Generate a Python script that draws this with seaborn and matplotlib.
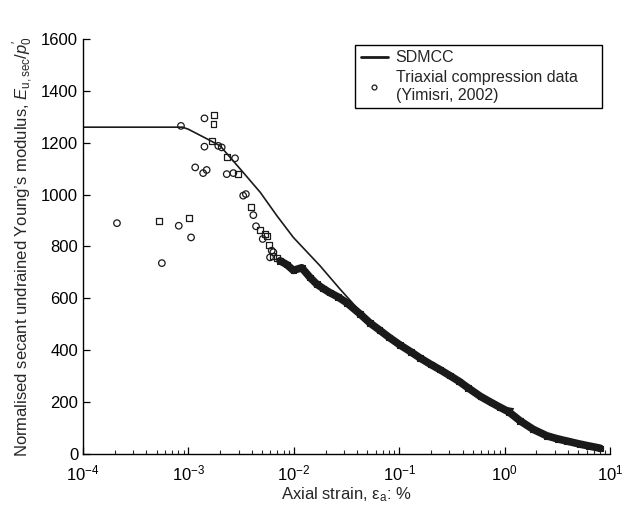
import numpy as np
import pandas as pd
import matplotlib

matplotlib.use("Agg")
import matplotlib.pyplot as plt
from matplotlib.lines import Line2D
from matplotlib.ticker import LogLocator, NullFormatter
import seaborn as sns

# SDMCC model curve (strain %, normalised modulus)
sdmcc_strain = [1e-4, 8.8e-4, 1.0e-3, 1.5e-3, 2.0e-3, 3.1e-3, 4.8e-3, 6.9e-3,
                9.9e-3, 0.0177, 0.0274, 0.040, 0.0528, 0.102, 0.20, 0.45,
                0.906, 1.21]
sdmcc_mod = [1260, 1260, 1252, 1215, 1188, 1099, 1009, 919,
             835, 726, 636, 562, 505, 420, 345, 255,
             182, 174]

# scattered triaxial points at small strain (circles)
circ_strain = [2.1e-4, 5.6e-4, 8.1e-4, 1.06e-3, 8.5e-4, 1.42e-3, 1.42e-3, 1.16e-3,
               1.38e-3, 1.49e-3, 1.92e-3, 2.07e-3, 2.77e-3, 2.31e-3, 2.67e-3,
               3.31e-3, 3.51e-3, 4.13e-3, 4.38e-3, 5.07e-3, 5.95e-3, 6.4e-3, 6.17e-3]
circ_mod = [890, 736, 880, 835, 1265, 1294, 1185, 1105,
            1083, 1095, 1188, 1182, 1140, 1079, 1083,
            996, 1002, 921, 878, 829, 758, 778, 784]

# scattered triaxial points at small strain (squares)
sq_strain = [5.3e-4, 1.01e-3, 1.76e-3, 1.73e-3, 1.66e-3, 2.34e-3, 2.97e-3, 3.9e-3,
             4.78e-3, 5.33e-3, 5.53e-3, 5.86e-3, 6.97e-3, 6.4e-3]
sq_mod = [899, 910, 1308, 1272, 1208, 1144, 1079, 951,
          865, 848, 839, 806, 754, 764]

# dense triaxial data band
band_strain = [0.0074, 0.0086, 0.0099, 0.0119, 0.0143, 0.0165, 0.019, 0.022,
               0.0264, 0.0318, 0.0425, 0.0528, 0.065, 0.08, 0.102, 0.13,
               0.158, 0.20, 0.244, 0.303, 0.37, 0.45, 0.59, 0.75,
               0.906, 1.1, 1.4, 1.87, 2.52, 3.2, 3.89, 5.2, 6.3, 7.5, 8.1]
band_mod = [745, 730, 708, 718, 680, 655, 638, 622,
            605, 583, 540, 505, 478, 450, 420, 393,
            370, 345, 325, 302, 280, 255, 222, 198,
            180, 162, 128, 95, 70, 58, 50, 38, 31, 25, 22]

sns.set_style("ticks")
plt.rcParams["font.family"] = ["Liberation Sans", "DejaVu Sans"]
plt.rcParams["mathtext.fontset"] = "custom"
plt.rcParams["mathtext.rm"] = "Liberation Sans"
plt.rcParams["mathtext.it"] = "Liberation Sans:italic"

fig = plt.figure(figsize=(6.25, 5.13), dpi=100)
ax = fig.add_axes([0.1328, 0.115, 0.8432, 0.809])
ax.set_xscale("log")

ink = "#1a1a1a"

band = pd.DataFrame({"strain": band_strain, "mod": band_mod})
sns.lineplot(data=band, x="strain", y="mod", color=ink, lw=5.5, sort=False,
             estimator=None, solid_capstyle="round", solid_joinstyle="round", ax=ax)
sns.scatterplot(data=band, x="strain", y="mod", marker="s", s=16,
                facecolor="none", edgecolor=ink, linewidth=0.8, ax=ax)

sdmcc = pd.DataFrame({"strain": sdmcc_strain, "mod": sdmcc_mod})
sns.lineplot(data=sdmcc, x="strain", y="mod", color=ink, lw=1.2, sort=False,
             estimator=None, ax=ax)

sns.scatterplot(x=circ_strain, y=circ_mod, marker="o", s=22,
                facecolor="none", edgecolor=ink, linewidth=0.9, ax=ax)
sns.scatterplot(x=sq_strain, y=sq_mod, marker="s", s=18,
                facecolor="none", edgecolor=ink, linewidth=0.9, ax=ax)

ax.set_xlim(1e-4, 10)
ax.set_ylim(0, 1600)
ax.set_yticks(np.arange(0, 1601, 200))
ax.xaxis.set_major_locator(LogLocator(base=10, numticks=10))
ax.xaxis.set_minor_locator(LogLocator(base=10, subs=np.arange(2, 10), numticks=20))
ax.xaxis.set_minor_formatter(NullFormatter())
ax.tick_params(direction="in", labelsize=12, length=5, width=0.9, colors="black")
ax.tick_params(axis="x", pad=7)
ax.tick_params(which="minor", direction="in", length=3, width=0.8)
sns.despine(ax=ax)
for s in ["left", "bottom"]:
    ax.spines[s].set_color("black")
    ax.spines[s].set_linewidth(1.0)

ax.set_xlabel("Axial strain, ε$_\\mathrm{a}$: %", fontsize=12, labelpad=1)
ax.set_ylabel("Normalised secant undrained Young\u2019s modulus, "
              "$E_{\\mathrm{u,sec}}/p^{\\prime}_0$", fontsize=12, labelpad=4)

handles = [Line2D([], [], color=ink, lw=2),
           Line2D([], [], color=ink, marker="o", ls="none", markersize=3.5,
                  markerfacecolor="none", markeredgewidth=0.9)]
labels = ["SDMCC", "Triaxial compression data\n(Yimisri, 2002)"]
leg = ax.legend(handles, labels, loc="upper left",
                bbox_to_anchor=(0.516, 0.829, 0.469, 0.157), mode="expand",
                borderaxespad=0, fontsize=11.5, frameon=True, fancybox=False,
                edgecolor="black", framealpha=1, handlelength=1.7,
                handletextpad=0.5, labelspacing=0.3, borderpad=0.35)
leg.get_frame().set_linewidth(1.0)

fig.savefig("out.png", dpi=100)
